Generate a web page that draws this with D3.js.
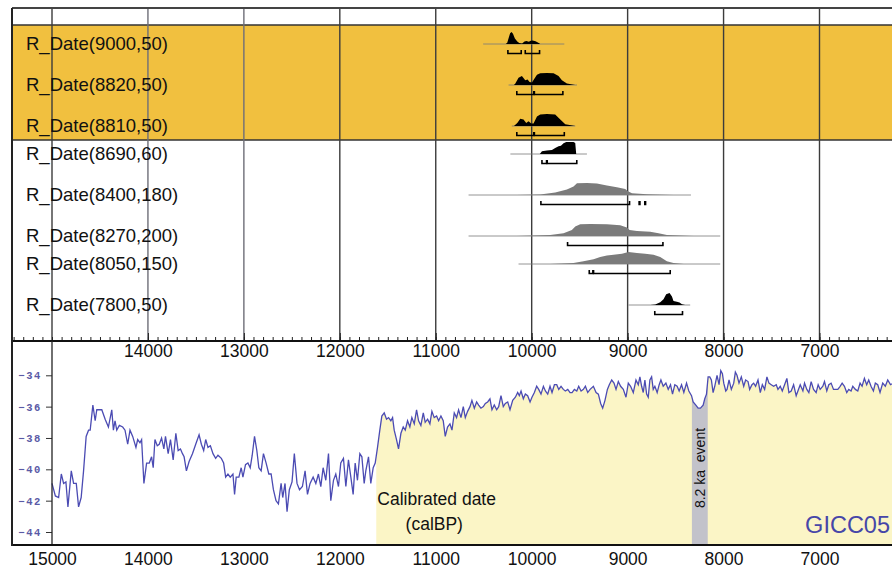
<!DOCTYPE html>
<html>
<head>
<meta charset="utf-8">
<script src="https://cdn.jsdelivr.net/npm/d3@7"></script>
<style>
body { margin: 0; background: #fff; }
svg { display: block; font-family: "Liberation Sans", Arial, sans-serif; }
</style>
</head>
<body>
<svg id="chart" width="892" height="570"></svg>
<script>
// ---- data ----
var dateLabels = ['R_Date(9000,50)', 'R_Date(8820,50)', 'R_Date(8810,50)', 'R_Date(8690,60)',
                  'R_Date(8400,180)', 'R_Date(8270,200)', 'R_Date(8050,150)', 'R_Date(7800,50)'];

// extent of the thin baseline under each distribution (calBP)
var dateSpans = [[10506, 9660], [10241, 9528], [10207, 9546], [10222, 9424],
                 [10658, 8340], [10658, 8035], [10137, 8035], [8991, 8348]];

// highest posterior density ranges (calBP)
var dateRanges = [
    [[10248, 10109], [10067, 9918]],
    [[10155, 9978], [9972, 9675]],
    [[10155, 9978], [9972, 9660]],
    [[9893, 9845], [9838, 9530]],
    [[9904, 8980], [8880, 8872], [8821, 8813]],
    [[9626, 8632]],
    [[9400, 9362], [9355, 8556]],
    [[8717, 8428]]
];

// relative probability, [calBP, p]
var dateDensity = [
    [[10270,0],[10255,0.1],[10240,0.5],[10225,0.9],[10210,1],[10195,0.85],[10175,0.45],[10150,0.2],[10130,0.08],
     [10100,0.05],[10075,0.2],[10055,0.25],[10030,0.18],[10010,0.28],[9990,0.3],[9960,0.22],[9935,0.12],[9910,0]],
    [[10185,0],[10172,0.1],[10137,0.6],[10102,0.75],[10067,0.4],[10043,0.45],[10022,0.25],[9997,0.2],[9974,0.5],
     [9945,0.85],[9911,0.97],[9841,1],[9772,0.97],[9720,0.75],[9685,0.4],[9633,0.12],[9546,0]],
    [[10185,0],[10150,0.25],[10119,0.6],[10085,0.55],[10057,0.25],[10033,0.4],[10005,0.2],[9981,0.2],[9945,0.8],
     [9911,0.95],[9841,1],[9755,0.95],[9702,0.55],[9650,0.15],[9546,0]],
    [[9915,0],[9893,0.22],[9841,0.3],[9789,0.33],[9755,0.5],[9720,0.64],[9695,0.68],[9668,0.9],[9640,1],
     [9564,1],[9546,0.92],[9536,0]],
    [[10154,0],[9911,0.05],[9755,0.2],[9633,0.45],[9564,0.7],[9528,0.97],[9424,1],[9320,0.95],[9216,0.8],
     [9112,0.65],[9025,0.5],[9001,0.33],[8955,0.14],[8799,0.06],[8522,0]],
    [[10154,0],[9807,0.08],[9668,0.22],[9581,0.5],[9546,0.8],[9494,0.98],[9390,1],[9216,0.98],[9077,0.9],
     [9008,0.7],[8980,0.5],[8903,0.42],[8764,0.36],[8678,0.22],[8591,0.08],[8313,0]],
    [[9807,0],[9564,0.08],[9460,0.22],[9355,0.4],[9286,0.58],[9216,0.7],[9147,0.78],[9059,0.86],[8991,1],
     [8903,0.92],[8817,0.86],[8730,0.78],[8660,0.58],[8591,0.22],[8522,0.08],[8417,0]],
    [[8764,0],[8712,0.05],[8660,0.22],[8626,0.47],[8598,0.9],[8563,1],[8538,0.7],[8522,0.33],[8486,0.28],
     [8459,0.2],[8434,0.06],[8400,0]]
];

var yearTicks = [15000, 14000, 13000, 12000, 11000, 10000, 9000, 8000, 7000];
var d18oTicks = [-34, -36, -38, -40, -42, -44];
var holoceneStart = 11620;
var event82 = [8330, 8165];

// GICC05 d18O, [b2k, permil]
var gicc05 = [
[15000,-40.9],[14965,-41.7],[14931,-41.8],[14903,-40.3],[14879,-40.9],[14855,-40.8],[14834,-42.4],[14799,-40.1],
[14775,-40.9],[14747,-40.9],[14723,-42.4],[14696,-41.8],[14671,-40.1],[14644,-37.9],[14619,-37.5],[14602,-37.5],
[14574,-35.9],[14550,-36.9],[14533,-36.2],[14505,-36.2],[14481,-36.2],[14446,-36.8],[14412,-37.3],[14377,-36.2],
[14360,-37.5],[14343,-36.9],[14325,-37.5],[14298,-37.2],[14263,-37.3],[14239,-37.5],[14211,-38.4],[14187,-37.5],
[14159,-37.9],[14125,-38.6],[14107,-38.1],[14083,-38.3],[14066,-38.1],[14042,-40.9],[14014,-39.6],[13986,-39.6],
[13962,-39.2],[13945,-39.9],[13927,-38.1],[13903,-38.5],[13882,-38.4],[13858,-38.0],[13834,-38.7],[13817,-37.9],
[13789,-39.0],[13765,-38.1],[13737,-39.4],[13709,-37.7],[13685,-38.8],[13661,-38.7],[13640,-39.0],[13623,-39.2],
[13599,-40.1],[13571,-39.5],[13536,-39.0],[13502,-38.4],[13467,-37.8],[13443,-38.4],[13419,-38.8],[13398,-38.1],
[13374,-38.6],[13349,-38.5],[13322,-39.0],[13294,-39.3],[13270,-39.1],[13235,-39.3],[13211,-39.6],[13190,-40.5],
[13166,-40.3],[13142,-40.5],[13114,-40.3],[13097,-41.6],[13080,-40.5],[13052,-40.5],[13028,-39.9],[13010,-40.5],
[12983,-39.7],[12958,-39.6],[12934,-39.9],[12913,-39.1],[12889,-37.9],[12865,-38.8],[12844,-39.9],[12820,-40.1],
[12796,-39.0],[12768,-39.6],[12740,-40.3],[12716,-40.3],[12692,-41.3],[12665,-42.0],[12640,-42.2],[12612,-40.9],
[12595,-41.8],[12571,-40.9],[12550,-42.7],[12526,-41.3],[12498,-40.8],[12474,-39.0],[12446,-40.9],[12420,-41.3],
[12390,-41.1],[12362,-40.1],[12337,-41.6],[12310,-40.9],[12278,-40.5],[12250,-40.9],[12223,-40.3],[12198,-41.1],
[12174,-39.9],[12146,-40.7],[12118,-39.0],[12094,-42.0],[12066,-40.7],[12042,-40.3],[12014,-41.1],[11990,-39.6],
[11962,-39.3],[11937,-41.1],[11910,-39.4],[11885,-40.5],[11861,-41.6],[11840,-39.6],[11816,-40.7],[11791,-39.0],
[11770,-39.2],[11746,-40.9],[11729,-40.1],[11701,-39.2],[11677,-40.9],[11652,-39.9],[11631,-39.6],[11607,-38.6],
[11583,-37.5],[11562,-36.6],[11537,-36.4],[11513,-36.8],[11492,-36.7],[11468,-36.9],[11450,-36.7],[11433,-37.5],
[11409,-38.1],[11388,-38.7],[11363,-37.7],[11339,-37.3],[11318,-37.5],[11294,-36.9],[11270,-37.3],[11249,-36.7],
[11224,-37.1],[11200,-36.2],[11179,-36.9],[11155,-37.2],[11130,-36.4],[11110,-37.0],[11085,-36.8],[11061,-37.1],
[11040,-36.3],[11016,-36.7],[10991,-36.6],[10970,-36.9],[10946,-36.6],[10922,-36.9],[10901,-37.9],[10877,-37.3],
[10852,-37.1],[10831,-37.5],[10807,-36.4],[10783,-36.7],[10762,-36.2],[10737,-36.7],[10713,-36.0],[10692,-36.7],
[10668,-36.3],[10643,-36.0],[10623,-35.6],[10598,-36.1],[10574,-35.7],[10553,-35.9],[10529,-36.1],[10504,-36.0],
[10483,-35.8],[10459,-35.7],[10435,-35.5],[10414,-36.2],[10390,-35.9],[10365,-36.2],[10344,-36.0],[10320,-35.3],
[10296,-36.0],[10275,-35.8],[10250,-35.7],[10226,-36.2],[10198,-35.6],[10170,-35.4],[10146,-35.1],[10129,-35.3],
[10111,-35.0],[10087,-35.5],[10066,-35.2],[10042,-35.3],[10017,-35.7],[9997,-35.4],[9972,-35.1],[9948,-34.7],
[9927,-34.9],[9903,-35.2],[9878,-34.7],[9857,-35.0],[9833,-35.2],[9809,-34.7],[9788,-35.1],[9763,-34.6],
[9739,-34.6],[9718,-34.9],[9694,-34.7],[9670,-34.9],[9649,-35.0],[9624,-34.9],[9600,-35.1],[9579,-35.1],
[9555,-34.9],[9530,-35.0],[9510,-34.7],[9485,-35.0],[9461,-34.9],[9440,-34.7],[9416,-35.1],[9391,-34.9],
[9357,-34.7],[9329,-35.1],[9305,-35.2],[9281,-35.8],[9260,-36.1],[9236,-35.6],[9211,-34.9],[9191,-34.6],
[9166,-34.3],[9142,-34.5],[9121,-34.9],[9097,-34.4],[9073,-34.7],[9045,-34.9],[9017,-35.4],[8993,-34.5],
[8969,-34.7],[8941,-35.1],[8913,-34.3],[8889,-34.6],[8872,-34.1],[8854,-34.7],[8837,-35.1],[8820,-34.3],
[8802,-35.2],[8785,-35.4],[8768,-34.3],[8750,-34.1],[8733,-34.9],[8716,-34.7],[8692,-35.1],[8671,-34.6],
[8653,-34.3],[8629,-34.7],[8601,-34.5],[8577,-34.9],[8553,-34.6],[8532,-35.2],[8508,-34.6],[8484,-34.7],
[8463,-35.0],[8438,-34.6],[8414,-35.1],[8386,-34.5],[8362,-35.0],[8334,-35.3],[8317,-35.7],[8289,-35.9],
[8265,-36.1],[8241,-36.1],[8213,-35.9],[8196,-35.5],[8178,-35.2],[8161,-34.1],[8144,-34.1],[8127,-34.3],
[8109,-35.1],[8092,-34.7],[8068,-34.0],[8047,-34.6],[8029,-33.7],[8012,-33.9],[7998,-34.5],[7977,-35.0],
[7964,-34.9],[7943,-34.3],[7919,-34.9],[7894,-34.5],[7877,-33.8],[7860,-34.0],[7839,-34.5],[7815,-34.1],
[7790,-34.7],[7770,-34.3],[7745,-34.4],[7728,-34.9],[7704,-34.6],[7686,-34.5],[7666,-34.7],[7641,-34.3],
[7617,-35.1],[7596,-34.6],[7572,-34.9],[7548,-34.1],[7527,-34.5],[7503,-34.6],[7478,-34.7],[7451,-34.6],
[7433,-34.9],[7409,-34.7],[7388,-35.0],[7364,-34.6],[7340,-34.2],[7319,-35.1],[7295,-35.0],[7270,-34.6],
[7243,-35.3],[7225,-35.0],[7201,-34.6],[7173,-35.0],[7156,-34.5],[7132,-34.9],[7111,-35.1],[7087,-34.4],
[7062,-34.9],[7035,-35.1],[7014,-34.6],[6993,-34.9],[6965,-34.7],[6948,-34.4],[6924,-35.0],[6903,-34.6],
[6879,-34.5],[6854,-34.9],[6834,-34.9],[6809,-34.9],[6785,-34.7],[6764,-34.5],[6740,-34.7],[6716,-35.1],
[6695,-34.9],[6671,-35.0],[6653,-34.7],[6626,-34.9],[6601,-35.0],[6577,-34.5],[6556,-34.7],[6532,-34.2],
[6508,-34.6],[6487,-34.3],[6463,-34.7],[6438,-35.0],[6418,-34.5],[6393,-34.6],[6369,-35.1],[6341,-34.5],
[6314,-34.7],[6289,-34.3],[6260,-34.6],[6230,-34.5]
];

// ---- layout ----
var frameL = 12, frameR = 892, frameT = 8, axisY = 341, baseY = 545;
var rowY = [44, 85, 126, 154, 195, 236, 264, 305];   // distribution baselines
var bandTop = 25, bandBottom = 140;                   // orange band round the first three rows

var svg = d3.select('#chart');
var x = d3.scaleLinear().domain([15000, 7000]).range([52, 819.5]);
var dens = d3.scaleLinear().domain([0, 1]).range([0, 12]);
var y = d3.scaleLinear().domain([-34, -44]).range([375.3, 532]);

var defs = svg.append('defs');
defs.append('clipPath').attr('id', 'frame')
    .append('rect').attr('x', frameL).attr('y', 0).attr('width', frameR - frameL).attr('height', 570);
defs.append('clipPath').attr('id', 'holo')
    .append('rect').attr('x', x(holoceneStart)).attr('y', axisY).attr('width', frameR - x(holoceneStart)).attr('height', baseY - axisY);
defs.append('clipPath').attr('id', 'ev82')
    .append('rect').attr('x', x(event82[0])).attr('y', axisY).attr('width', x(event82[1]) - x(event82[0])).attr('height', baseY - axisY);

// ---- upper panel: calibrated dates ----
var upper = svg.append('g').attr('clip-path', 'url(#frame)');

upper.append('rect')
    .attr('x', frameL).attr('y', bandTop)
    .attr('width', frameR - frameL).attr('height', bandBottom - bandTop)
    .attr('fill', '#f1c03f');

[bandTop, bandBottom].forEach(function(v) {
    upper.append('line').attr('x1', frameL).attr('x2', frameR).attr('y1', v).attr('y2', v)
        .attr('stroke', '#333').attr('stroke-width', 1.5);
});

upper.selectAll('.grid').data(yearTicks).enter().append('line')
    .attr('class', 'grid')
    .attr('x1', function(d) { return x(d); }).attr('x2', function(d) { return x(d); })
    .attr('y1', frameT).attr('y2', axisY)
    .attr('stroke', function(d, i) { return i == 1 || i == 2 ? '#6e6e78' : '#3c3c3c'; })
    .attr('stroke-width', 1.4);

upper.append('line').attr('x1', frameL).attr('x2', frameR).attr('y1', frameT).attr('y2', frameT)
    .attr('stroke', '#444').attr('stroke-width', 2);

var area = d3.area()
    .x(function(d) { return x(d[0]); })
    .y0(0)
    .y1(function(d) { return -dens(d[1]); });

dateLabels.forEach(function(label, i) {
    var sd = +label.match(/,(\d+)\)/)[1];
    var g = upper.append('g').attr('transform', 'translate(0,' + rowY[i] + ')');

    g.append('text')
        .attr('x', 26).attr('y', 6)
        .attr('font-size', 18.5).attr('fill', '#111')
        .text(label);

    g.append('line')
        .attr('x1', x(dateSpans[i][0])).attr('x2', x(dateSpans[i][1]))
        .attr('y1', 0).attr('y2', 0)
        .attr('stroke', '#7a7a7a').attr('stroke-width', 0.8);

    g.append('path')
        .datum(dateDensity[i])
        .attr('d', area)
        .attr('fill', sd >= 150 ? '#7b7b7b' : '#000');

    dateRanges[i].forEach(function(r) {
        var x0 = x(r[0]), x1 = x(r[1]), by = 9.5;
        g.append('path')
            .attr('d', 'M' + x0 + ',' + (by - 3.5) + 'V' + by + 'H' + x1 + 'V' + (by - 3.5))
            .attr('fill', 'none').attr('stroke', '#000').attr('stroke-width', 1.6);
    });
});

// axis between the panels: minor ticks upwards, labels under
var minor = d3.range(6300, 15500, 100);
upper.append('g')
    .attr('transform', 'translate(0,' + axisY + ')')
    .call(d3.axisBottom(x).tickValues(minor).tickSize(-4).tickFormat(''))
    .call(function(g) { g.select('.domain').remove(); })
    .selectAll('line').attr('stroke', '#222');

var midAxis = upper.append('g')
    .attr('transform', 'translate(0,' + axisY + ')')
    .call(d3.axisBottom(x).tickValues(yearTicks.slice(1)).tickSize(-8).tickPadding(4).tickFormat(d3.format('d')));
midAxis.select('.domain').remove();
midAxis.selectAll('line').attr('stroke', '#222');
midAxis.selectAll('text').attr('font-size', 17.5).attr('fill', '#111')
    .attr('font-family', '"Liberation Sans", Arial, sans-serif');

upper.append('line').attr('x1', frameL).attr('x2', frameR).attr('y1', axisY).attr('y2', axisY)
    .attr('stroke', '#111').attr('stroke-width', 1.8);

// ---- lower panel: GICC05 ----
var lower = svg.append('g').attr('clip-path', 'url(#frame)');

var under = d3.area()
    .x(function(d) { return x(d[0]); })
    .y0(baseY)
    .y1(function(d) { return y(d[1]); });

lower.append('path').datum(gicc05)
    .attr('d', under).attr('fill', '#fbf5c6')
    .attr('clip-path', 'url(#holo)');

lower.append('path').datum(gicc05)
    .attr('d', under).attr('fill', '#c2c2ca')
    .attr('clip-path', 'url(#ev82)');

lower.append('text')
    .attr('transform', 'translate(' + (x((event82[0] + event82[1]) / 2) + 5) + ',468) rotate(-90)')
    .attr('text-anchor', 'middle')
    .attr('font-size', 14).attr('fill', '#111')
    .attr('xml:space', 'preserve')
    .text('8.2 ka  event');

lower.append('path').datum(gicc05)
    .attr('d', d3.line().x(function(d) { return x(d[0]); }).y(function(d) { return y(d[1]); }))
    .attr('fill', 'none').attr('stroke', '#4b4bb3').attr('stroke-width', 1.3);

var calText = lower.append('text').attr('font-size', 17.5).attr('fill', '#111');
calText.append('tspan').attr('x', x(holoceneStart) + 1).attr('y', 505).text('Calibrated date');
calText.append('tspan').attr('x', x(holoceneStart) + 58).attr('y', 530).attr('text-anchor', 'middle').text('(calBP)');

lower.append('text')
    .attr('x', 890).attr('y', 533)
    .attr('text-anchor', 'end')
    .attr('font-size', 23.5).attr('fill', '#4646a8')
    .text('GICC05');

var yAxis = svg.append('g')
    .attr('transform', 'translate(' + x(15000) + ',0)')
    .call(d3.axisLeft(y).tickValues(d18oTicks).tickSize(6).tickPadding(4));
yAxis.select('.domain').remove();
yAxis.selectAll('line').attr('stroke', '#333');
yAxis.selectAll('text')
    .attr('font-family', '"Liberation Mono", "DejaVu Sans Mono", monospace')
    .attr('font-size', 10.5).attr('font-weight', 'bold')
    .attr('letter-spacing', 1.6)
    .attr('fill', '#5a5aa6');

svg.append('line').attr('x1', x(15000)).attr('x2', x(15000)).attr('y1', axisY).attr('y2', baseY)
    .attr('stroke', '#222').attr('stroke-width', 1.3);

var botAxis = svg.append('g')
    .attr('transform', 'translate(0,' + baseY + ')')
    .call(d3.axisBottom(x).tickValues(yearTicks).tickSize(0).tickPadding(8).tickFormat(d3.format('d')));
botAxis.select('.domain').remove();
botAxis.selectAll('text').attr('font-size', 17.5).attr('fill', '#111')
    .attr('font-family', '"Liberation Sans", Arial, sans-serif');

svg.append('line').attr('x1', frameL).attr('x2', frameR).attr('y1', baseY).attr('y2', baseY)
    .attr('stroke', '#111').attr('stroke-width', 2.2);

svg.append('line').attr('x1', frameL).attr('x2', frameL).attr('y1', frameT).attr('y2', baseY + 1)
    .attr('stroke', '#222').attr('stroke-width', 2);
</script>
</body>
</html>
